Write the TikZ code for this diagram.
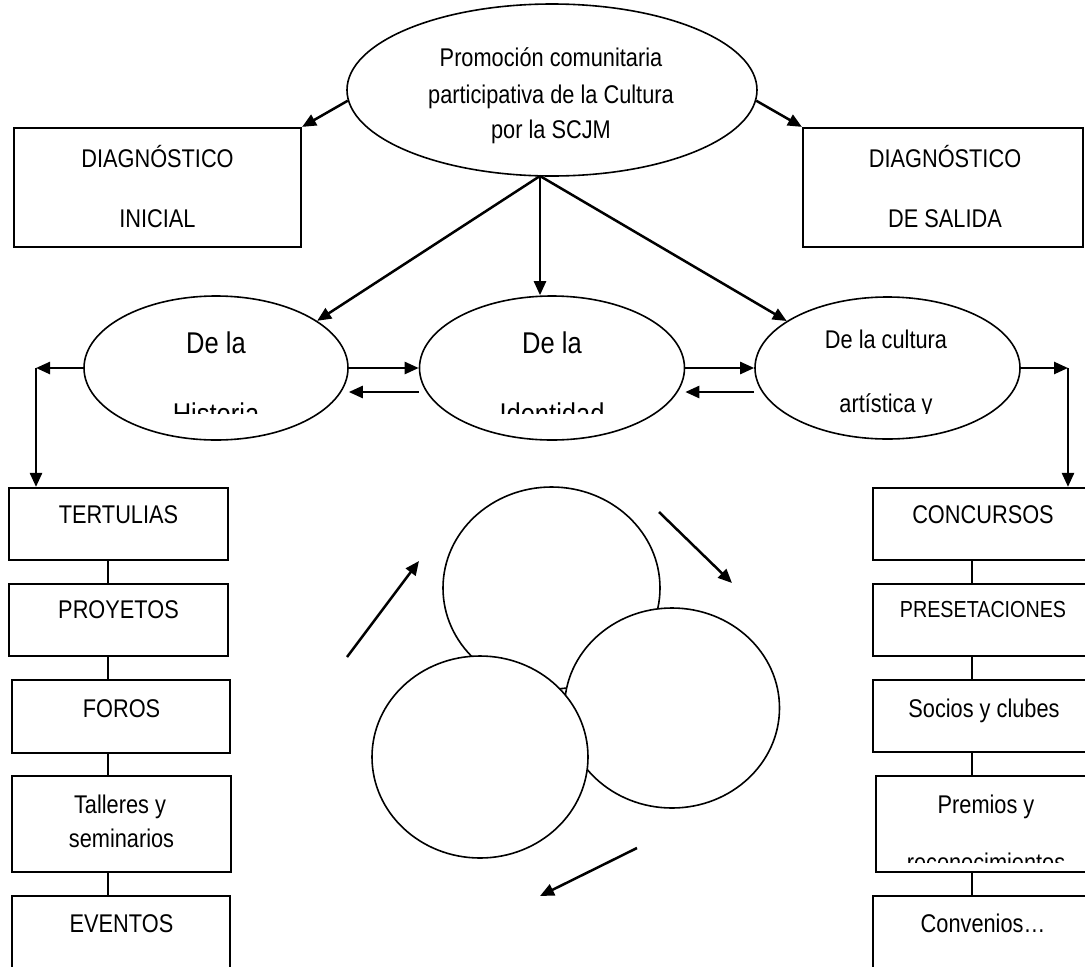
\documentclass[tikz,border=0pt]{standalone}
\usepackage{fontspec}
\setmainfont{Liberation Sans}[FakeStretch=0.85]
\usetikzlibrary{shapes.geometric,arrows.meta}
\begin{document}
\begin{tikzpicture}[x=1pt,y=-1pt,
  arr/.style={line width=2.5pt,-{Triangle[length=14pt,width=12pt]}},
  box/.style={draw,line width=2.2pt,fill=white,rectangle,inner sep=0pt},
  oval/.style={draw,line width=1.6pt,fill=white,ellipse,inner sep=0pt},
  lbl/.style={anchor=base,inner sep=0pt,font=\fontsize{25.6}{30}\selectfont},
  sml/.style={anchor=base,inner sep=0pt,font=\fontsize{23.2}{28}\selectfont},
  big/.style={anchor=base,inner sep=0pt,font=\fontsize{30}{36}\selectfont},
  link/.style={line width=2.2pt}]
\useasboundingbox (0,0) rectangle (1085,967);
\clip (0,0) rectangle (1085,967);

% top ellipse and diagnosis boxes
\node[oval,minimum width=410pt,minimum height=172pt] (top) at (552,90) {};
\node[box,minimum width=287pt,minimum height=119pt] (dinit) at (157.5,187.5) {};
\node[box,minimum width=280pt,minimum height=119pt] (dsal) at (943,187.5) {};

\node[lbl] (tp1) at (551,66) {Promoción comunitaria};
\node[lbl] (tp2) at (551,103) {participativa de la Cultura};
\node[lbl] (tp3) at (551,138) {por la SCJM};
\node[lbl] (di1) at (157.5,167) {DIAGNÓSTICO};
\node[lbl] (di2) at (157.5,227) {INICIAL};
\node[lbl] (ds1) at (945,167) {DIAGNÓSTICO};
\node[lbl] (ds2) at (945,227) {DE SALIDA};

% middle ellipses
\node[oval,minimum width=264pt,minimum height=144pt] (hist) at (216,368) {};
\node[oval,minimum width=265pt,minimum height=144pt] (iden) at (552,368) {};
\node[oval,minimum width=265pt,minimum height=142pt] (arte) at (887.5,368) {};

\node[big] (h1) at (216,353) {De la};
\node[big] (i1) at (552,353) {De la};
\node[lbl] (a1) at (886,348) {De la cultura};
\begin{scope}
\clip (60,290) rectangle (1040,413);
\node[big] (h2) at (216,424) {Historia};
\node[big] (i2) at (552,424) {Identidad};
\node[lbl] (a2) at (886,412) {artística y};
\end{scope}

% left column
\node[box,minimum width=219pt,minimum height=72pt] (tert) at (118.5,524) {};
\node[box,minimum width=219pt,minimum height=72pt] (proy) at (118.5,620) {};
\node[box,minimum width=218pt,minimum height=73pt] (foro) at (121,716.5) {};
\node[box,minimum width=219pt,minimum height=96pt] (tall) at (121.5,824) {};
\node[box,minimum width=218pt,minimum height=104pt] (even) at (121,948) {};

\node[lbl] (t1) at (118.5,523) {TERTULIAS};
\node[lbl] (t2) at (118.5,618) {PROYETOS};
\node[lbl] (t3) at (121.5,717) {FOROS};
\node[lbl] (t4) at (120,813) {Talleres y};
\node[lbl] (t5) at (121.5,847) {seminarios};
\node[lbl] (t6) at (121.5,932) {EVENTOS};

% right column
\node[box,minimum width=220pt,minimum height=72pt] (conc) at (983,524) {};
\node[box,minimum width=220pt,minimum height=72pt] (pres) at (983,620) {};
\node[box,minimum width=220pt,minimum height=72pt] (soci) at (983,716) {};
\node[box,minimum width=217pt,minimum height=96pt] (prem) at (984.5,824) {};
\node[box,minimum width=220pt,minimum height=104pt] (conv) at (983,948) {};

\node[lbl] (r1) at (983,523) {CONCURSOS};
\node[sml] (r2) at (983,617) {PRESETACIONES};
\node[lbl] (r3) at (984,717) {Socios y clubes};
\node[lbl] (r4) at (986,813) {Premios y};
\begin{scope}
\clip (870,780) rectangle (1085,862);
\node[lbl] (r5) at (986,871) {reconocimientos};
\end{scope}
\node[lbl] (r6) at (983,932) {Convenios…};

% column links
\coordinate (lx) at (108,0);
\coordinate (rx) at (972,0);
\draw[link] (tert.south -| lx) -- (proy.north -| lx);
\draw[link] (proy.south -| lx) -- (foro.north -| lx);
\draw[link] (foro.south -| lx) -- (tall.north -| lx);
\draw[link] (tall.south -| lx) -- (even.north -| lx);
\draw[link] (conc.south -| rx) -- (pres.north -| rx);
\draw[link] (pres.south -| rx) -- (soci.north -| rx);
\draw[link] (soci.south -| rx) -- (prem.north -| rx);
\draw[link] (prem.south -| rx) -- (conv.north -| rx);

% circles
\node[oval,minimum width=217pt,minimum height=202pt] (c1) at (551.5,588) {};
\node[oval,minimum width=215pt,minimum height=200pt] (c2) at (672,708) {};
\node[oval,minimum width=216pt,minimum height=202pt] (c3) at (480,757) {};

% arrows
\draw[arr] (top.183) -- (dinit.north east);
\draw[arr] (top.-3) -- (dsal.north west);
\coordinate (apex) at (540,176);
\draw[arr] (apex) -- (hist.25);
\draw[arr] (apex) -- (apex |- iden.north);
\draw[arr] (apex) -- (arte.155);
\draw[arr] (hist.east) -- (iden.west);
\draw[arr] ([yshift=-24pt]iden.west) -- ([yshift=-24pt]hist.east);
\draw[arr] (iden.east) -- (arte.west);
\draw[arr] ([yshift=-24pt]arte.west) -- ([yshift=-24pt]iden.east);
\coordinate (cl) at (36,368);
\coordinate (cr) at (1068,368);
\draw[arr] (hist.west) -- (cl);
\draw[arr] (cl) -- (cl |- tert.north);
\draw[arr] (arte.east) -- (cr);
\draw[arr] (cr) -- (cr |- conc.north);

\coordinate (a1s) at (347,657);
\coordinate (a1e) at (419,561);
\coordinate (a2s) at (659,512);
\coordinate (a2e) at (732,583);
\coordinate (a3s) at (637,848);
\coordinate (a3e) at (540,896);
\draw[arr] (a1s) -- (a1e);
\draw[arr] (a2s) -- (a2e);
\draw[arr] (a3s) -- (a3e);
\end{tikzpicture}
\end{document}
